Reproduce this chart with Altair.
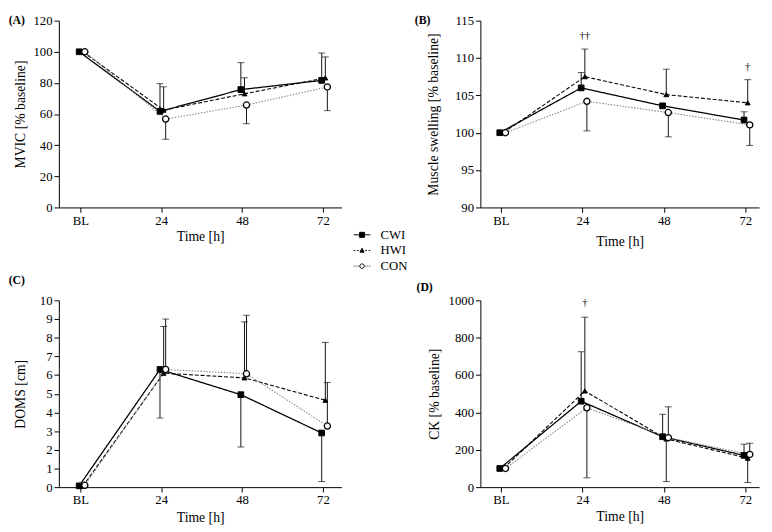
import json
import altair as alt
import pandas as pd

FONT = "Liberation Serif, Times New Roman, serif"

time_labels = ["BL", "24", "48", "72"]
groups = ["CWI", "HWI", "CON"]
dodge = {"CWI": -0.015, "HWI": 0.03, "CON": 0.055}

# (A) MVIC [% baseline]
mvic_cwi = [100, 61.7, 75.7, 81.6]
mvic_hwi = [100, 62.5, 73.0, 83.2]
mvic_con = [100, 56.8, 65.8, 77.4]
mvic_err_cwi = [None, 79.5, 93.0, 99.2]
mvic_err_hwi = [None, 77.5, 83.3, 96.7]
mvic_err_con = [None, 43.8, 53.8, 62.2]

# (B) Muscle swelling [% baseline]
swell_cwi = [100, 106.0, 103.6, 101.7]
swell_hwi = [100, 107.5, 105.1, 104.0]
swell_con = [100, 104.2, 102.7, 101.05]
swell_err_cwi = [None, 108.05, None, 102.8]
swell_err_hwi = [None, 111.2, 108.5, 107.1]
swell_err_con = [None, 100.25, 99.45, 98.3]
swell_sig_x = [1, 3]
swell_sig_y = [112.9, 108.8]
swell_sig_text = ["††", "†"]

# (C) DOMS [cm]
doms_cwi = [0.07, 6.3, 4.95, 2.9]
doms_hwi = [0.05, 6.1, 5.85, 4.65]
doms_con = [0.1, 6.3, 6.07, 3.27]
doms_err_cwi = [None, 3.7, 2.15, 0.3]
doms_err_hwi = [None, 8.6, 8.85, 7.75]
doms_err_con = [None, 9.0, 9.2, 5.6]

# (D) CK [% baseline]
ck_cwi = [100, 460, 270, 170]
ck_hwi = [100, 515, 258, 155]
ck_con = [100, 425, 265, 175]
ck_err_cwi = [None, 725, 390, 230]
ck_err_hwi = [None, 910, 30, 25]
ck_err_con = [None, 50, 430, 235]
ck_sig_x = [1]
ck_sig_y = [988]
ck_sig_text = ["†"]

line_style = {
    "CWI": dict(color="black", strokeDash=[1, 0], strokeWidth=1.3),
    "HWI": dict(color="black", strokeDash=[4, 2], strokeWidth=1.1),
    "CON": dict(color="#858585", strokeDash=[1.5, 1.5], strokeWidth=1.1),
}
marker_style = {
    "CWI": dict(shape="square", size=34, fill="black", stroke="black", strokeWidth=1),
    "HWI": dict(shape="triangle-up", size=24, fill="black", stroke="black", strokeWidth=1),
    "CON": dict(shape="circle", size=40, fill="white", stroke="black", strokeWidth=1.3),
}
legend_paths = [
    "M-1,0H-0.3M0.3,0H1M-0.3,-0.3H0.3V0.3H-0.3Z",
    "M-1,0H-0.8M-0.6,0H-0.4M0.4,0H0.6M0.8,0H1M0,-0.26L0.25,0.2H-0.25Z",
    "M-1,0H-0.9M-0.75,0H-0.65M-0.5,0H-0.4M0.4,0H0.5M0.65,0H0.75M0.9,0H1"
    "M0.27,0A0.27,0.27 0 1,1 -0.27,0A0.27,0.27 0 1,1 0.27,0Z",
]

H = 191
label_expr = json.dumps(time_labels) + "[datum.value]"


def frame(vals, errs):
    rows = []
    for g in groups:
        for i, lab in enumerate(time_labels):
            rows.append({"g": g, "t": lab, "x": i + dodge[g],
                         "v": vals[g][i], "e": errs[g][i]})
    return pd.DataFrame(rows)


def panel(vals, errs, ytitle, ydom, yticks, xdom, width, ytitle_x, xtitle_y,
          label, label_xy, sig=None, legend=False):
    df = frame(vals, errs)
    xs = alt.Scale(domain=xdom, nice=False, zero=False)
    ys = alt.Scale(domain=ydom, nice=False, zero=False)
    xaxis = alt.Axis(values=[0, 1, 2, 3], labelExpr=label_expr, title="Time [h]",
                     titleX=width / 2, titleY=xtitle_y, titleBaseline="middle",
                     titleFontWeight="normal")
    yaxis = alt.Axis(values=yticks, title=ytitle, titleX=ytitle_x, titleY=H / 2,
                     titleBaseline="middle", titleFontWeight="normal", format="d")

    def X(f="x"):
        return alt.X(f + ":Q", scale=xs, axis=xaxis)

    def Y(f):
        return alt.Y(f + ":Q", scale=ys, axis=yaxis)

    base = alt.Chart(df)
    layers = []
    errdf = base.transform_filter("isValid(datum.e)")
    layers.append(errdf.mark_rule(color="#111", strokeWidth=1).encode(
        x=X(), y=Y("v"), y2="e:Q"))
    layers.append(errdf.mark_tick(orient="horizontal", size=7, thickness=1,
                                  color="#111").encode(x=X(), y=Y("e")))
    for g in groups:
        layers.append(base.transform_filter(alt.datum.g == g)
                      .mark_line(**line_style[g]).encode(x=X(), y=Y("v")))
    for g in groups:
        layers.append(base.transform_filter(alt.datum.g == g)
                      .mark_point(filled=True, opacity=1, **marker_style[g])
                      .encode(x=X(), y=Y("v")))
    if sig is not None:
        sx, sy, st = sig
        sdf = pd.DataFrame({"x": [v + dodge["HWI"] for v in sx], "y": sy, "s": st})
        layers.append(alt.Chart(sdf).mark_text(font=FONT, fontSize=11)
                      .encode(x=X(), y=Y("y"), text="s:N",
                              color=alt.value("black")))
    ldf = pd.DataFrame({"s": [label]})
    layers.append(alt.Chart(ldf).mark_text(font=FONT, fontSize=12, fontWeight="bold",
                                           baseline="middle")
                  .encode(x=alt.value(label_xy[0]), y=alt.value(label_xy[1]),
                          text="s:N", color=alt.value("black")))
    if legend:
        leg = alt.Legend(orient="none", legendX=301, legendY=210, title=None,
                         symbolSize=289, symbolStrokeWidth=1, symbolOpacity=1,
                         labelFont=FONT, labelFontSize=13, labelColor="black",
                         labelOffset=10, rowPadding=0)
        layers.append(base.mark_point(opacity=0, filled=True, strokeWidth=1).encode(
            x=X(), y=Y("v"),
            shape=alt.Shape("g:N", scale=alt.Scale(domain=groups, range=legend_paths),
                            legend=leg),
            fill=alt.Fill("g:N", scale=alt.Scale(domain=groups,
                                                 range=["black", "black", "white"]),
                          legend=leg),
            stroke=alt.Stroke("g:N", scale=alt.Scale(domain=groups,
                                                     range=["black", "black", "black"]),
                              legend=leg),
        ))
    return alt.layer(*layers).properties(width=width, height=H)


A = panel({"CWI": mvic_cwi, "HWI": mvic_hwi, "CON": mvic_con},
          {"CWI": mvic_err_cwi, "HWI": mvic_err_hwi, "CON": mvic_err_con},
          "MVIC [% baseline]", [0, 120], list(range(0, 121, 20)),
          [-0.266, 3.23], 289, -39, 30, "(A)", (-43, -1), legend=True)
B = panel({"CWI": swell_cwi, "HWI": swell_hwi, "CON": swell_con},
          {"CWI": swell_err_cwi, "HWI": swell_err_hwi, "CON": swell_err_con},
          "Muscle swelling [% baseline]", [90, 115], list(range(90, 116, 5)),
          [-0.253, 3.17], 285, -48, 35, "(B)", (-59, -1),
          sig=(swell_sig_x, swell_sig_y, swell_sig_text))
C = panel({"CWI": doms_cwi, "HWI": doms_hwi, "CON": doms_con},
          {"CWI": doms_err_cwi, "HWI": doms_err_hwi, "CON": doms_err_con},
          "DOMS [cm]", [0, 10], list(range(0, 11)),
          [-0.266, 3.23], 289, -39, 31, "(C)", (-43, -21))
D = panel({"CWI": ck_cwi, "HWI": ck_hwi, "CON": ck_con},
          {"CWI": ck_err_cwi, "HWI": ck_err_hwi, "CON": ck_err_con},
          "CK [% baseline]", [0, 1000], list(range(0, 1001, 200)),
          [-0.253, 3.17], 285, -47, 30, "(D)", (-57, -14),
          sig=(ck_sig_x, ck_sig_y, ck_sig_text))

chart = alt.concat(A, B, C, D, columns=2, spacing={"row": 26, "column": 75}).properties(
    padding={"left": 0, "top": 0, "right": 5, "bottom": 5}
).configure_view(stroke=None).configure_axis(
    grid=False, domainColor="black", tickColor="black", labelColor="black",
    titleColor="black", labelFont=FONT, titleFont=FONT, labelFontSize=13,
    titleFontSize=14, titleFontWeight="normal", tickSize=5, labelPadding=2,
    domainWidth=1, tickWidth=1
)

chart.save("out.html", embed_options={"renderer": "svg", "actions": False})
